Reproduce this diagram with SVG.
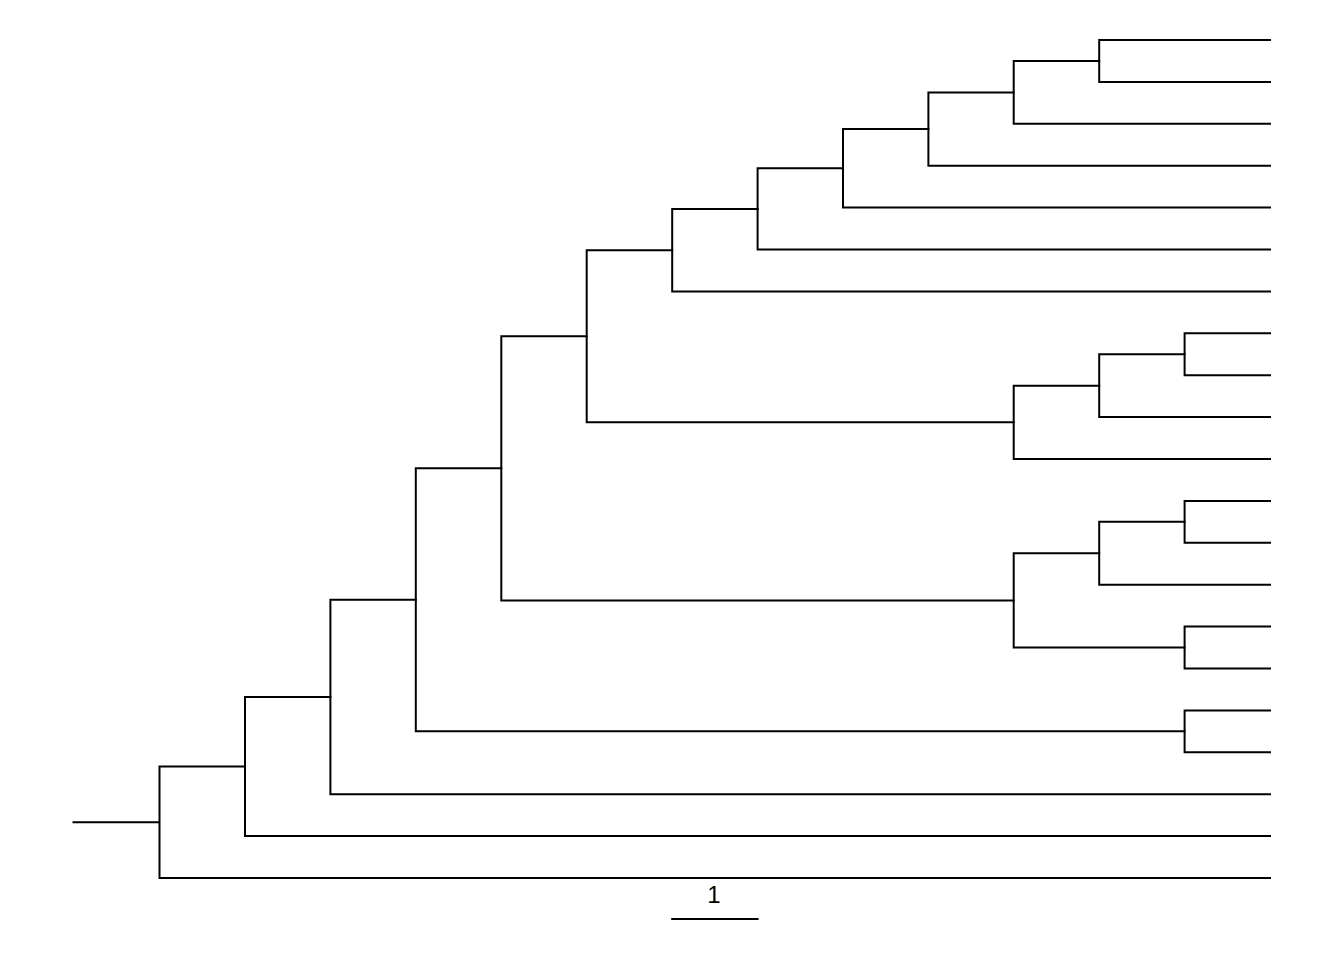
<svg xmlns="http://www.w3.org/2000/svg" width="1344" height="960" viewBox="0 0 1344 960">
<style>
.e{fill:none;stroke:#000;stroke-width:2;stroke-linecap:square;stroke-linejoin:miter}
</style>
<rect width="1344" height="960" fill="#fff"/>
<g id="connectors" class="e">
<g id="root"><path d="M73.5,822.3H159.5M159.5,766.5V878H1270M159.5,766.5H245"/></g>
<g id="n245"><path d="M245,697V836.1H1270M245,697H330.4"/></g>
<g id="n330"><path d="M330.4,599.8V794.2H1270M330.4,599.8H415.8"/></g>
<g id="n415"><path d="M415.8,468.3V731.35H1184.6M415.8,468.3H501.3"/></g>
<g id="n1184e"><path d="M1184.6,710.4V752.3H1270M1184.6,710.4H1270"/></g>
<g id="n500"><path d="M501.3,336.2V600.4H1013.7M501.3,336.2H586.7"/></g>
<g id="n586"><path d="M586.7,250.2V422.3H1013.7M586.7,250.2H672.2"/></g>
<g id="n671"><path d="M672.2,208.9V291.4H1270M672.2,208.9H757.6"/></g>
<g id="n757"><path d="M757.6,168.3V249.5H1270M757.6,168.3H843"/></g>
<g id="n843"><path d="M843,129V207.6H1270M843,129H928.4"/></g>
<g id="n928"><path d="M928.4,92.4V165.7H1270M928.4,92.4H1013.7"/></g>
<g id="n1014a"><path d="M1013.7,60.95V123.8H1270M1013.7,60.95H1099.2"/></g>
<g id="n1099a"><path d="M1099.2,40V81.9H1270M1099.2,40H1270"/></g>
<g id="n1014b"><path d="M1013.7,385.7V459H1270M1013.7,385.7H1099.2"/></g>
<g id="n1099b"><path d="M1099.2,354.25V417.1H1270M1099.2,354.25H1184.6"/></g>
<g id="n1184b"><path d="M1184.6,333.3V375.2H1270M1184.6,333.3H1270"/></g>
<g id="n1014c"><path d="M1013.7,553.3V647.55H1184.6M1013.7,553.3H1099.2"/></g>
<g id="n1099c"><path d="M1099.2,521.85V584.7H1270M1099.2,521.85H1184.6"/></g>
<g id="n1184c"><path d="M1184.6,500.9V542.8H1270M1184.6,500.9H1270"/></g>
<g id="n1184d"><path d="M1184.6,626.6V668.5H1270M1184.6,626.6H1270"/></g>
</g>
<g id="scalebar">
<path class="e" d="M672.2,919H757.6"/>
<text x="714" y="903" text-anchor="middle" font-family="Liberation Sans, Arial, sans-serif" font-size="24" fill="#000">1</text>
</g>
</svg>
